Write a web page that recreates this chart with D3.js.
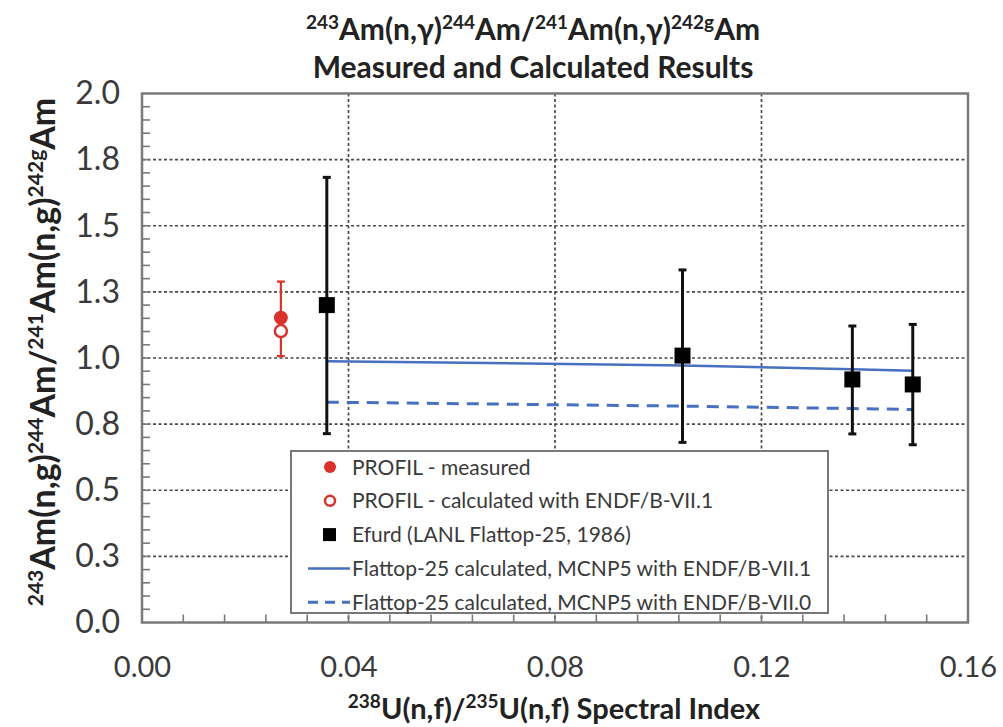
<!DOCTYPE html>
<html>
<head>
<meta charset="utf-8">
<script src="https://cdn.jsdelivr.net/npm/d3@7"></script>
<style>
  body { margin: 0; background: #fff; }
  text { font-family: Lato, "Open Sans", sans-serif; }
</style>
</head>
<body>
<svg id="chart" width="1003" height="727"></svg>
<script>
// values
const xTicks = [0, 0.04, 0.08, 0.12, 0.16];
const xTickLabels = ["0.00", "0.04", "0.08", "0.12", "0.16"];
const yTicks = [0, 0.25, 0.5, 0.75, 1.0, 1.25, 1.5, 1.75, 2.0];
const yTickLabels = ["0.0", "0.3", "0.5", "0.8", "1.0", "1.3", "1.5", "1.8", "2.0"];

const profilX = [0.0269];
const profilMeasured = [1.152];
const profilLow = [1.007];
const profilHigh = [1.289];
const profilCalc = [1.102];

const efurdX = [0.0358, 0.1047, 0.1376, 0.1493];
const efurdY = [1.200, 1.009, 0.919, 0.900];
const efurdLow = [0.714, 0.681, 0.713, 0.672];
const efurdHigh = [1.683, 1.333, 1.121, 1.127];

const calcX = [0.0358, 0.1047, 0.1376, 0.1493];
const calcV71 = [0.988, 0.972, 0.957, 0.952];
const calcV70 = [0.833, 0.818, 0.809, 0.805];

const legendLabels = [
  "PROFIL - measured",
  "PROFIL - calculated with ENDF/B-VII.1",
  "Efurd (LANL Flattop-25, 1986)",
  "Flattop-25 calculated, MCNP5 with ENDF/B-VII.1",
  "Flattop-25 calculated, MCNP5 with ENDF/B-VII.0"
];

const margin = { top: 93.5, right: 35, bottom: 104.5, left: 142 };
const width = 1003 - margin.left - margin.right;
const height = 727 - margin.top - margin.bottom;

const red = "#d8322b";
const blue = "#4770c0";
const frameColor = "#7a7a7a";

const svg = d3.select("#chart");
const g = svg.append("g").attr("transform", `translate(${margin.left},${margin.top})`);

const x = d3.scaleLinear().domain([0, 0.16]).range([0, width]);
const y = d3.scaleLinear().domain([0, 2]).range([height, 0]);

// grid lines
g.append("g")
  .selectAll("line")
  .data(yTicks.slice(1, -1))
  .join("line")
  .attr("x1", 0).attr("x2", width)
  .attr("y1", d => y(d)).attr("y2", d => y(d))
  .attr("stroke", "#4a4a4a").attr("stroke-width", 1.7)
  .attr("stroke-dasharray", "3,2.5");

g.append("g")
  .selectAll("line")
  .data(xTicks.slice(1, -1))
  .join("line")
  .attr("x1", d => x(d)).attr("x2", d => x(d))
  .attr("y1", 0).attr("y2", height)
  .attr("stroke", "#4a4a4a").attr("stroke-width", 1.7)
  .attr("stroke-dasharray", "3,2.5");

// minor ticks (inside)
const yMinor = d3.range(1, 40).map(i => i * 0.05);
const xMinor = d3.range(1, 20).map(i => i * 0.008);

// axes with custom tick labels
const xAxis = d3.axisBottom(x).tickValues(xTicks).tickSize(0).tickPadding(34)
  .tickFormat((d, i) => xTickLabels[i]);
const yAxis = d3.axisLeft(y).tickValues(yTicks).tickSize(0).tickPadding(22)
  .tickFormat((d, i) => yTickLabels[i]);

const gx = g.append("g").attr("transform", `translate(0,${height})`).call(xAxis);
const gy = g.append("g").call(yAxis);
[gx, gy].forEach(a => {
  a.select(".domain").remove();
  a.selectAll("text")
    .style("font-family", "Lato, 'Open Sans', sans-serif")
    .attr("fill", "#3a3a3a");
});
gx.selectAll("text").style("font-size", "29px");
gy.selectAll("text").style("font-size", "32px");

// model lines
const line = d3.line().x(d => x(d[0])).y(d => y(d[1]));
g.append("path")
  .datum(calcX.map((v, i) => [v, calcV71[i]]))
  .attr("d", line).attr("fill", "none")
  .attr("stroke", blue).attr("stroke-width", 2.5);
g.append("path")
  .datum(calcX.map((v, i) => [v, calcV70[i]]))
  .attr("d", line).attr("fill", "none")
  .attr("stroke", blue).attr("stroke-width", 3)
  .attr("stroke-dasharray", "12,8");

// Efurd error bars and squares
efurdX.forEach((xv, i) => {
  const eb = g.append("g");
  eb.append("line")
    .attr("x1", x(xv)).attr("x2", x(xv))
    .attr("y1", y(efurdLow[i])).attr("y2", y(efurdHigh[i]))
    .attr("stroke", "#111").attr("stroke-width", 3);
  [efurdLow[i], efurdHigh[i]].forEach(v => {
    eb.append("line")
      .attr("x1", x(xv) - 4).attr("x2", x(xv) + 4)
      .attr("y1", y(v)).attr("y2", y(v))
      .attr("stroke", "#111").attr("stroke-width", 3);
  });
});
g.append("g")
  .selectAll("rect")
  .data(efurdX)
  .join("rect")
  .attr("x", d => x(d) - 8)
  .attr("y", (d, i) => y(efurdY[i]) - 8)
  .attr("width", 16).attr("height", 16)
  .attr("fill", "#000");

// PROFIL
profilX.forEach((xv, i) => {
  g.append("line")
    .attr("x1", x(xv)).attr("x2", x(xv))
    .attr("y1", y(profilLow[i])).attr("y2", y(profilHigh[i]))
    .attr("stroke", red).attr("stroke-width", 2.2);
  [profilLow[i], profilHigh[i]].forEach(v => {
    g.append("line")
      .attr("x1", x(xv) - 4).attr("x2", x(xv) + 4)
      .attr("y1", y(v)).attr("y2", y(v))
      .attr("stroke", red).attr("stroke-width", 2.2);
  });
  g.append("circle")
    .attr("cx", x(xv)).attr("cy", y(profilMeasured[i])).attr("r", 7)
    .attr("fill", red);
  g.append("circle")
    .attr("cx", x(xv)).attr("cy", y(profilCalc[i])).attr("r", 6)
    .attr("fill", "#fff").attr("stroke", red).attr("stroke-width", 2.5);
});

// legend
const lg = svg.append("g").attr("transform", "translate(291,451)");
lg.append("rect")
  .attr("width", 537).attr("height", 162)
  .attr("fill", "#fff").attr("stroke", "#6a6a6a").attr("stroke-width", 1.8);
const rowY = i => 16 + i * 33.8;
lg.selectAll("text.lbl")
  .data(legendLabels)
  .join("text")
  .attr("class", "lbl")
  .attr("x", 61)
  .attr("y", (d, i) => rowY(i))
  .attr("dy", "0.36em")
  .style("font-size", "21px")
  .attr("fill", "#3a3a3a")
  .text(d => d);
lg.append("circle").attr("cx", 39).attr("cy", rowY(0)).attr("r", 6).attr("fill", red);
lg.append("circle").attr("cx", 39).attr("cy", rowY(1)).attr("r", 5)
  .attr("fill", "#fff").attr("stroke", red).attr("stroke-width", 2.5);
lg.append("rect").attr("x", 32).attr("y", rowY(2) - 6.5).attr("width", 13).attr("height", 13).attr("fill", "#000");
lg.append("line").attr("x1", 17).attr("x2", 59).attr("y1", rowY(3)).attr("y2", rowY(3))
  .attr("stroke", blue).attr("stroke-width", 2.5);
lg.append("line").attr("x1", 17).attr("x2", 59).attr("y1", rowY(4)).attr("y2", rowY(4))
  .attr("stroke", blue).attr("stroke-width", 3).attr("stroke-dasharray", "10,7");

// minor ticks drawn over everything inside the frame
g.append("g").selectAll("line")
  .data(yMinor)
  .join("line")
  .attr("x1", 0).attr("x2", 8)
  .attr("y1", d => y(d)).attr("y2", d => y(d))
  .attr("stroke", frameColor).attr("stroke-width", 1.6);
g.append("g").selectAll("line")
  .data(xMinor)
  .join("line")
  .attr("x1", d => x(d)).attr("x2", d => x(d))
  .attr("y1", height).attr("y2", height - 8)
  .attr("stroke", frameColor).attr("stroke-width", 1.6);

// frame
g.append("rect")
  .attr("width", width).attr("height", height)
  .attr("fill", "none").attr("stroke", frameColor).attr("stroke-width", 2.5);

// text helper with superscripts: parts = [[text, isSup], ...]
function richText(sel, parts, supSize) {
  parts.forEach(([t, sup]) => {
    sel.append("tspan")
      .attr("baseline-shift", sup ? "super" : null)
      .style("font-size", sup ? supSize : null)
      .text(t);
  });
}

// title
const t1 = svg.append("text")
  .attr("x", 533).attr("y", 40)
  .attr("text-anchor", "middle")
  .style("font-size", "30px").style("font-weight", "bold")
  .attr("fill", "#222");
richText(t1, [["243", 1], ["Am(n,γ)", 0], ["244", 1], ["Am/", 0], ["241", 1], ["Am(n,γ)", 0], ["242g", 1], ["Am", 0]], "19px");
svg.append("text")
  .attr("x", 533).attr("y", 78)
  .attr("text-anchor", "middle")
  .style("font-size", "30px").style("font-weight", "bold")
  .attr("fill", "#222")
  .text("Measured and Calculated Results");

// x axis title
const xt = svg.append("text")
  .attr("x", 554).attr("y", 719)
  .attr("text-anchor", "middle")
  .style("font-size", "29px").style("font-weight", "bold")
  .attr("fill", "#222");
richText(xt, [["238", 1], ["U(n,f)/", 0], ["235", 1], ["U(n,f) Spectral Index", 0]], "19px");

// y axis title
const yt = svg.append("text")
  .attr("transform", `translate(55,352) rotate(-90)`)
  .attr("text-anchor", "middle")
  .style("font-size", "34px").style("font-weight", "bold")
  .attr("fill", "#222");
richText(yt, [["243", 1], ["Am(n,g)", 0], ["244", 1], ["Am/", 0], ["241", 1], ["Am(n,g)", 0], ["242g", 1], ["Am", 0]], "21px");
</script>
</body>
</html>
